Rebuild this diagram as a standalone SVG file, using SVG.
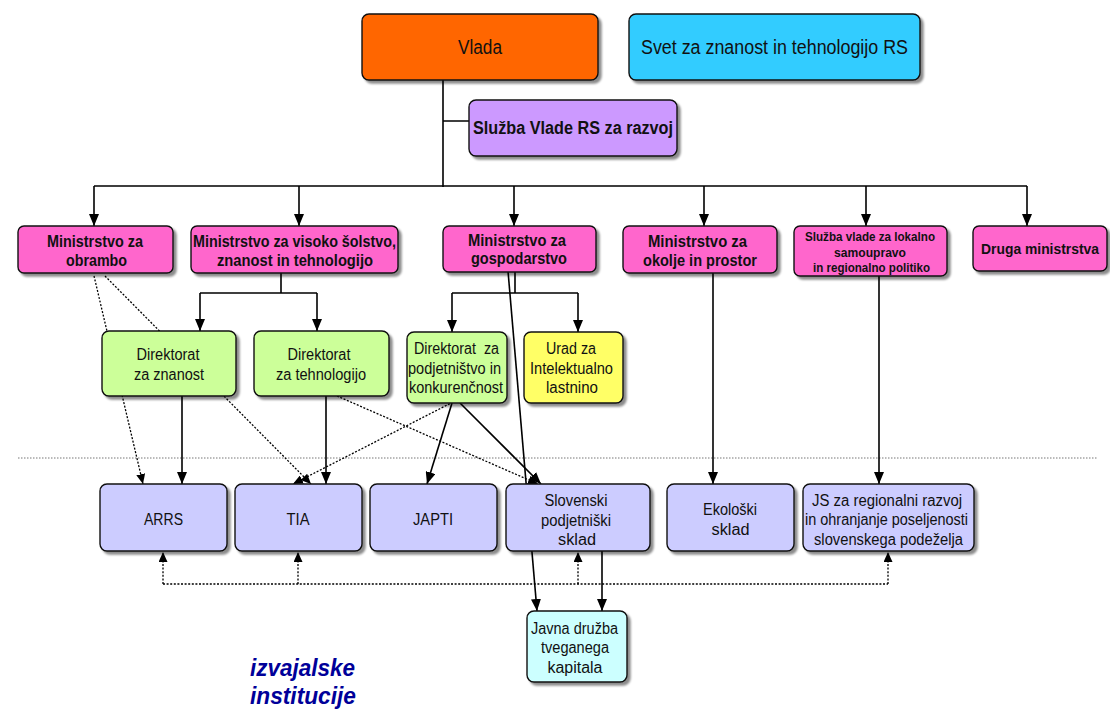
<svg xmlns="http://www.w3.org/2000/svg" width="1110" height="711" viewBox="0 0 1110 711">
<defs>
<filter id="sh" x="-10%" y="-10%" width="130%" height="140%"><feDropShadow dx="3" dy="3" stdDeviation="1.3" flood-color="#000" flood-opacity="0.45"/></filter>
<marker id="ah" viewBox="0 0 12 10" refX="12" refY="5" markerWidth="12" markerHeight="10" markerUnits="userSpaceOnUse" orient="auto"><path d="M0,0 L12,5 L0,10 z" fill="#000"/></marker>
<marker id="ahs" viewBox="0 0 10 9" refX="10" refY="4.5" markerWidth="10" markerHeight="9" markerUnits="userSpaceOnUse" orient="auto"><path d="M0,0 L10,4.5 L0,9 z" fill="#000"/></marker>
</defs>
<style>
rect.b{stroke:#111;stroke-width:1.4;filter:url(#sh)}
.c{fill:none;stroke:#000;stroke-width:1.6}
.ca{fill:none;stroke:#000;stroke-width:1.6;marker-end:url(#ah)}
.d{fill:none;stroke:#000;stroke-width:1.3;stroke-dasharray:2 1.6}
.da{fill:none;stroke:#000;stroke-width:1.3;stroke-dasharray:2 1.6;marker-end:url(#ahs)}
.sep{fill:none;stroke:#777;stroke-width:1;stroke-dasharray:1.5 1.5}
text{font-family:"Liberation Sans",Arial,sans-serif;fill:#111;text-anchor:middle}
.bo{font-weight:bold}
.t20{font-size:20px}
.t16{font-size:16px}
.t12{font-size:12px}
</style>
<rect width="1110" height="711" fill="#fff"/>
<g id="connectors">
<path class="sep" d="M18,458 H1097"/>
<path class="c" d="M443,80 V187 M443,121 H469 M94,186 H1027"/>
<path class="ca" d="M94,186 V226"/>
<path class="ca" d="M299,186 V226"/>
<path class="ca" d="M514,186 V226"/>
<path class="ca" d="M704,186 V226"/>
<path class="ca" d="M866,186 V226"/>
<path class="ca" d="M1027,186 V226"/>
<path class="c" d="M281,273 V293 M200,293 H317 M515,271 V293 M452,293 H578"/>
<path class="ca" d="M200,293 V331"/>
<path class="ca" d="M317,293 V331"/>
<path class="ca" d="M452,293 V332"/>
<path class="ca" d="M578,293 V332"/>
<path class="ca" d="M508,271 L537,611"/>
<path class="ca" d="M182,396 V484"/>
<path class="ca" d="M326,396 V484"/>
<path class="ca" d="M452,403 L427,484"/>
<path class="ca" d="M460,403 L541,484"/>
<path class="ca" d="M713,273 V484"/>
<path class="ca" d="M879,276 V484"/>
<path class="ca" d="M602,551 V611"/>
<path class="da" d="M94,276 L143,484"/>
<path class="da" d="M105,276 L311,484"/>
<path class="da" d="M337,396 L538,484"/>
<path class="da" d="M453,402 L293,484"/>
<path class="d" d="M163,584 H888"/>
<path class="da" d="M163,584 V552"/>
<path class="da" d="M298,584 V552"/>
<path class="da" d="M578,584 V552"/>
<path class="da" d="M888,584 V552"/>
</g>
<g id="vlada"><rect class="b" x="362" y="14" width="236" height="66" rx="7" fill="#FF6600"/><text class="t20" x="480" y="54" textLength="44" lengthAdjust="spacingAndGlyphs">Vlada</text></g>
<g id="svet"><rect class="b" x="629" y="14" width="291" height="66" rx="7" fill="#33CCFF"/><text class="t20" x="774.5" y="54" textLength="267" lengthAdjust="spacingAndGlyphs">Svet za znanost in tehnologijo RS</text></g>
<g id="sluzba-razvoj"><rect class="b" x="469" y="100" width="208" height="56" rx="7" fill="#CC99FF"/><text class="bo" style="font-size:18px" x="573" y="134" textLength="200" lengthAdjust="spacingAndGlyphs">Služba Vlade RS za razvoj</text></g>
<g id="m-obramba"><rect class="b" x="18" y="226" width="155" height="47" rx="6" fill="#FF66CC"/><text class="bo t16" x="95" y="247" textLength="96" lengthAdjust="spacingAndGlyphs">Ministrstvo za</text><text class="bo t16" x="96.5" y="266" textLength="61" lengthAdjust="spacingAndGlyphs">obrambo</text></g>
<g id="m-visoko"><rect class="b" x="191" y="226" width="207" height="47" rx="6" fill="#FF66CC"/><text class="bo t16" x="294.5" y="247" textLength="203" lengthAdjust="spacingAndGlyphs">Ministrstvo za visoko šolstvo,</text><text class="bo t16" x="295" y="266" textLength="156" lengthAdjust="spacingAndGlyphs">znanost in tehnologijo</text></g>
<g id="m-gospodarstvo"><rect class="b" x="443" y="226" width="153" height="46" rx="6" fill="#FF66CC"/><text class="bo t16" x="517" y="246" textLength="98" lengthAdjust="spacingAndGlyphs">Ministrstvo za</text><text class="bo t16" x="519" y="264" textLength="96" lengthAdjust="spacingAndGlyphs">gospodarstvo</text></g>
<g id="m-okolje"><rect class="b" x="623" y="226" width="154" height="47" rx="6" fill="#FF66CC"/><text class="bo t16" x="697.5" y="247" textLength="99" lengthAdjust="spacingAndGlyphs">Ministrstvo za</text><text class="bo t16" x="700" y="266" textLength="114" lengthAdjust="spacingAndGlyphs">okolje in prostor</text></g>
<g id="s-lokalno"><rect class="b" x="794" y="226" width="153" height="50" rx="6" fill="#FF66CC"/><text class="bo t12" x="870" y="241" textLength="130" lengthAdjust="spacingAndGlyphs">Služba vlade za lokalno</text><text class="bo t12" x="870" y="257" textLength="72" lengthAdjust="spacingAndGlyphs">samoupravo</text><text class="bo t12" x="871.5" y="272" textLength="117" lengthAdjust="spacingAndGlyphs">in regionalno politiko</text></g>
<g id="m-druga"><rect class="b" x="973" y="226" width="134" height="45" rx="6" fill="#FF66CC"/><text class="bo" style="font-size:15px" x="1040" y="254" textLength="118" lengthAdjust="spacingAndGlyphs">Druga ministrstva</text></g>
<g id="d-znanost"><rect class="b" x="102" y="331" width="134" height="65" rx="7" fill="#CCFF99"/><text class="t16" x="168" y="360" textLength="63" lengthAdjust="spacingAndGlyphs">Direktorat</text><text class="t16" x="169" y="380" textLength="70" lengthAdjust="spacingAndGlyphs">za znanost</text></g>
<g id="d-tehnologija"><rect class="b" x="254" y="331" width="135" height="65" rx="7" fill="#CCFF99"/><text class="t16" x="319" y="360" textLength="63" lengthAdjust="spacingAndGlyphs">Direktorat</text><text class="t16" x="321" y="380" textLength="90" lengthAdjust="spacingAndGlyphs">za tehnologijo</text></g>
<g id="d-podjetnistvo"><rect class="b" x="407" y="332" width="100" height="71" rx="7" fill="#CCFF99"/><text class="t16" x="456.5" y="354" textLength="85" lengthAdjust="spacingAndGlyphs" xml:space="preserve">Direktorat  za</text><text class="t16" x="454.5" y="374" textLength="93" lengthAdjust="spacingAndGlyphs">podjetništvo in</text><text class="t16" x="456" y="393" textLength="94" lengthAdjust="spacingAndGlyphs">konkurenčnost</text></g>
<g id="urad"><rect class="b" x="524" y="332" width="99" height="71" rx="7" fill="#FFFF66"/><text class="t16" x="571" y="354" textLength="50" lengthAdjust="spacingAndGlyphs">Urad za</text><text class="t16" x="571.5" y="374" textLength="83" lengthAdjust="spacingAndGlyphs">Intelektualno</text><text class="t16" x="572" y="393" textLength="52" lengthAdjust="spacingAndGlyphs">lastnino</text></g>
<g id="arrs"><rect class="b" x="100" y="484" width="127" height="67" rx="7" fill="#CCCCFF"/><text class="t16" x="163.5" y="525" textLength="39" lengthAdjust="spacingAndGlyphs">ARRS</text></g>
<g id="tia"><rect class="b" x="235" y="484" width="127" height="67" rx="7" fill="#CCCCFF"/><text class="t16" x="298" y="525" textLength="23" lengthAdjust="spacingAndGlyphs">TIA</text></g>
<g id="japti"><rect class="b" x="370" y="484" width="127" height="67" rx="7" fill="#CCCCFF"/><text class="t16" x="433" y="525" textLength="40" lengthAdjust="spacingAndGlyphs">JAPTI</text></g>
<g id="sps"><rect class="b" x="506" y="484" width="144" height="67" rx="7" fill="#CCCCFF"/><text class="t16" x="576" y="506" textLength="63" lengthAdjust="spacingAndGlyphs">Slovenski</text><text class="t16" x="576" y="526" textLength="70" lengthAdjust="spacingAndGlyphs">podjetniški</text><text class="t16" x="577" y="545" textLength="38" lengthAdjust="spacingAndGlyphs">sklad</text></g>
<g id="eko"><rect class="b" x="667" y="484" width="127" height="67" rx="7" fill="#CCCCFF"/><text class="t16" x="730" y="515" textLength="54" lengthAdjust="spacingAndGlyphs">Ekološki</text><text class="t16" x="730.5" y="535" textLength="38" lengthAdjust="spacingAndGlyphs">sklad</text></g>
<g id="js"><rect class="b" x="803" y="484" width="171" height="67" rx="7" fill="#CCCCFF"/><text class="t16" x="887" y="506" textLength="150" lengthAdjust="spacingAndGlyphs">JS za regionalni razvoj</text><text class="t16" x="886.5" y="525" textLength="163" lengthAdjust="spacingAndGlyphs">in ohranjanje poseljenosti</text><text class="t16" x="888.5" y="545" textLength="149" lengthAdjust="spacingAndGlyphs">slovenskega podeželja</text></g>
<g id="javna"><rect class="b" x="527" y="611" width="100" height="71" rx="7" fill="#CCFFFF"/><text class="t16" x="574.5" y="634" textLength="87" lengthAdjust="spacingAndGlyphs">Javna družba</text><text class="t16" x="575" y="653" textLength="68" lengthAdjust="spacingAndGlyphs">tveganega</text><text class="t16" x="575" y="673" textLength="55" lengthAdjust="spacingAndGlyphs">kapitala</text></g>
<g id="label-izvajalske"><text style="font-size:23px;font-weight:bold;font-style:italic;fill:#000099;text-anchor:start" x="250" y="676" textLength="105" lengthAdjust="spacingAndGlyphs">izvajalske</text><text style="font-size:23px;font-weight:bold;font-style:italic;fill:#000099;text-anchor:start" x="250" y="704" textLength="106" lengthAdjust="spacingAndGlyphs">institucije</text></g>
</svg>
